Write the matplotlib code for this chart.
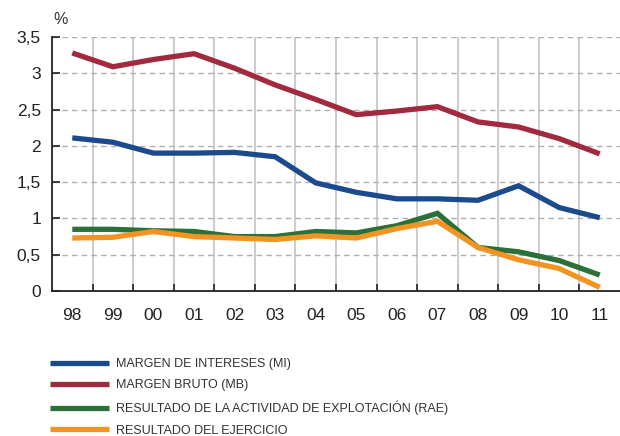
import matplotlib
matplotlib.use("Agg")
import matplotlib.pyplot as plt
from matplotlib.ticker import FixedLocator, FuncFormatter

years = ["98", "99", "00", "01", "02", "03", "04", "05", "06", "07", "08", "09", "10", "11"]
mi = [2.11, 2.05, 1.90, 1.90, 1.91, 1.85, 1.49, 1.36, 1.27, 1.27, 1.25, 1.45, 1.15, 1.01]
mb = [3.28, 3.09, 3.19, 3.27, 3.07, 2.84, 2.64, 2.43, 2.48, 2.54, 2.33, 2.26, 2.10, 1.89]
rae = [0.85, 0.85, 0.83, 0.82, 0.75, 0.75, 0.82, 0.80, 0.90, 1.07, 0.60, 0.54, 0.42, 0.22]
res = [0.73, 0.74, 0.82, 0.75, 0.73, 0.71, 0.76, 0.73, 0.86, 0.96, 0.60, 0.43, 0.31, 0.05]
labels = ["MARGEN DE INTERESES (MI)", "MARGEN BRUTO (MB)",
          "RESULTADO DE LA ACTIVIDAD DE EXPLOTACIÓN (RAE)", "RESULTADO DEL EJERCICIO"]
colors = ["#1b4b8c", "#a12a3e", "#2a7038", "#f39322"]
yticks = [0, 0.5, 1, 1.5, 2, 2.5, 3, 3.5]

plt.rcParams['font.family'] = ['Liberation Sans', 'DejaVu Sans']
fig = plt.figure(figsize=(6.2, 4.36), dpi=100)
ax = fig.add_axes([52/620, 1-291/436, 1-52/620, (291-37)/436])

x = list(range(len(years)))
for series, c, lab in zip([mi, mb, rae, res], colors, labels):
    ax.plot(x, series, color=c, lw=3.8, label=lab, solid_capstyle='butt', solid_joinstyle='miter')

ax.set_xlim(-0.5, len(years) - 0.5)
ax.set_ylim(0, 3.5)
ax.set_xticks(x)
ax.set_xticklabels(years)
ax.xaxis.set_minor_locator(FixedLocator([i + 0.5 for i in range(len(years) - 1)]))
ax.set_yticks(yticks)
ax.yaxis.set_major_formatter(FuncFormatter(lambda v, p: ("%g" % v).replace(".", ",")))

ax.tick_params(axis='x', which='major', length=0, labelsize=12.5, pad=12, colors='#222222')
ax.tick_params(axis='x', which='minor', direction='in', length=5, width=1.2, color='#222222')
ax.tick_params(axis='y', which='major', direction='in', length=6, width=1.2, labelsize=12.5,
               pad=8, colors='#222222')
ax.grid(True, axis='x', which='minor', color='#c8c8c8', lw=1.3, ls='-')
ax.grid(True, axis='y', which='major', color='#b0b0b0', lw=1.0, ls=(0, (4, 3)))
ax.set_axisbelow(True)
for s in ['top', 'right']:
    ax.spines[s].set_visible(False)
for s in ['left', 'bottom']:
    ax.spines[s].set_linewidth(1.3)
    ax.spines[s].set_color('#222222')

fig.text(53/620, 1-20/436, "%", fontsize=11.5, color='#333333', va='center', ha='left')

handles, labs = ax.get_legend_handles_labels()
leg = fig.legend(handles, labs, loc='upper left', bbox_to_anchor=(45/620, 1-353/436),
                 frameon=False, fontsize=9, handlelength=4.7, handletextpad=0.6,
                 labelspacing=0.75, borderaxespad=0)
for t in leg.get_texts():
    t.set_color('#333333')

fig.savefig("out.png", dpi=100)
